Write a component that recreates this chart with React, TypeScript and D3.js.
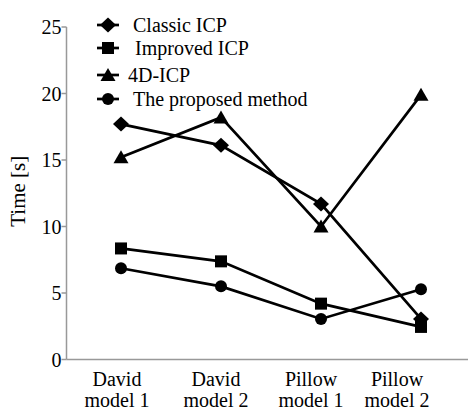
import React from "react";
import * as d3 from "d3";

const categories = [["David", "model 1"], ["David", "model 2"], ["Pillow", "model 1"], ["Pillow", "model 2"]];
const seriesNames = ["Classic ICP", "Improved ICP", "4D-ICP", "The proposed method"];
const classicICP = [17.7, 16.1, 11.7, 3.05];
const improvedICP = [8.35, 7.38, 4.2, 2.45];
const icp4D = [15.2, 18.2, 10.0, 19.9];
const proposed = [6.86, 5.5, 3.05, 5.28];
const yTicks = [0, 5, 10, 15, 20, 25];
const markerTypes = ["diamond", "square", "triangle", "circle"];

const W = 468, H = 410;
const FONT = "'Liberation Serif', 'Times New Roman', serif";

function Marker({ type, x, y }: { type: string; x: number; y: number }) {
  if (type === "diamond") {
    return <path d={`M${x},${y - 7.5} L${x + 8},${y} L${x},${y + 7.5} L${x - 8},${y} Z`} fill="#000" />;
  }
  if (type === "square") {
    return <rect x={x - 6} y={y - 6} width={12} height={12} fill="#000" />;
  }
  if (type === "triangle") {
    return <path d={`M${x},${y - 7} L${x + 7.5},${y + 6} L${x - 7.5},${y + 6} Z`} fill="#000" />;
  }
  return <circle cx={x} cy={y} r={6} fill="#000" />;
}

export default function App() {
  const series = [classicICP, improvedICP, icp4D, proposed];
  const x = d3.scalePoint<number>().domain(categories.map((_, i) => i)).range([121, 421]);
  const y = d3.scaleLinear().domain([0, 25]).range([359.5, 27]);
  const line = d3.line<number>().x((_, i) => x(i) as number).y((d) => y(d));
  const axisX = 66.5;
  const legendRows = [25, 48, 75, 99];
  const legendTextX = [133, 135, 128, 133];
  const labelShift = [-4, -5, -10, -24];

  return (
    <svg width={W} height={H} style={{ position: "absolute", left: 0, top: 0, background: "#fff" }} fontFamily={FONT}>
      <rect width={W} height={H} fill="#fff" />
      {/* axes */}
      <line x1={axisX} x2={axisX} y1={y(25)} y2={y(0)} stroke="#999" strokeWidth={1.5} />
      <line x1={axisX} x2={W} y1={y(0)} y2={y(0)} stroke="#999" strokeWidth={1.5} />
      {yTicks.map((t) => (
        <g key={t}>
          <line x1={axisX - 5} x2={axisX} y1={y(t)} y2={y(t)} stroke="#999" strokeWidth={1.5} />
          <text x={axisX - 5} y={y(t)} dy="0.35em" textAnchor="end" fontSize={20} fill="#000">{t}</text>
        </g>
      ))}
      <text transform={`translate(18,${y(12.5) - 2}) rotate(-90)`} textAnchor="middle" dy="0.35em" fontSize={21} fill="#000">Time [s]</text>
      {categories.map((c, i) => {
        const cx = (x(i) as number) + labelShift[i];
        return (
          <text key={i} textAnchor="middle" fontSize={20} fill="#000">
            <tspan x={cx} y={385.5}>{c[0]}</tspan>
            <tspan x={cx} y={407}>{c[1]}</tspan>
          </text>
        );
      })}
      {/* series */}
      {series.map((s, k) => (
        <g key={k}>
          <path d={line(s) || ""} fill="none" stroke="#000" strokeWidth={2.7} />
          {s.map((v, i) => <Marker key={i} type={markerTypes[k]} x={x(i) as number} y={y(v)} />)}
        </g>
      ))}
      {/* legend */}
      {seriesNames.map((n, k) => (
        <g key={n}>
          <line x1={97} x2={119} y1={legendRows[k]} y2={legendRows[k]} stroke="#000" strokeWidth={2.7} />
          <Marker type={markerTypes[k]} x={108} y={legendRows[k]} />
          <text x={legendTextX[k]} y={legendRows[k]} dy="0.35em" fontSize={20} fill="#000">{n}</text>
        </g>
      ))}
    </svg>
  );
}
